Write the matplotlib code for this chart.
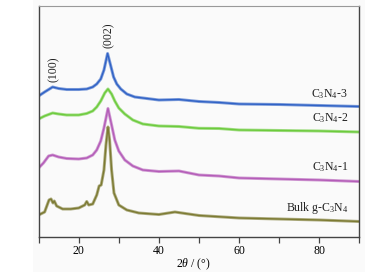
import matplotlib
matplotlib.use("Agg")
import matplotlib.pyplot as plt
from matplotlib.patches import Rectangle

plt.rcParams['font.family'] = ['Liberation Serif', 'DejaVu Serif']
plt.rcParams['mathtext.fontset'] = 'custom'
plt.rcParams['mathtext.rm'] = 'Liberation Serif'
plt.rcParams['mathtext.it'] = 'Liberation Serif:italic'

# ---- data (2theta in degrees, stacked intensity in a.u.) ----
x_c3 = [10, 11.5, 13.5, 15, 17, 20, 22, 23.5, 24.5, 25.5, 26.3, 27.2, 28, 28.7, 29.5, 30.5, 32, 34, 37, 40, 45, 50, 55, 60, 70, 80, 90]
y_c3 = [141, 145, 150, 148.5, 147.5, 147.5, 148, 150, 153, 158, 167, 183.5, 171, 160, 153, 148, 143, 140, 138.5, 137, 137.5, 135.5, 134.5, 133, 132.5, 131.5, 130.5]

x_c2 = [10, 11.5, 13.5, 15, 17, 20, 22, 23.5, 24.5, 25.5, 26.5, 27.3, 28.2, 29, 30, 31.5, 33.5, 36, 40, 45, 50, 55, 60, 70, 80, 90]
y_c2 = [118, 121, 124, 123, 122, 122, 123.5, 126, 130, 136, 144, 148, 143, 136, 129, 123, 117, 113, 111, 110.5, 108.7, 108.5, 107, 106.5, 106, 105]

x_c1 = [10, 11.2, 12.5, 13.5, 15, 17, 20, 22, 23.5, 24.5, 25.5, 26.3, 27.3, 28.2, 29, 30, 31.5, 33.5, 36, 40, 45, 50, 55, 60, 70, 80, 90]
y_c1 = [69, 74, 81, 82, 80, 78.5, 78, 79, 82, 87, 96, 109, 128.5, 112, 97, 86, 77, 71, 67, 65.5, 66, 62, 61, 59, 58, 57, 55.5]

x_bulk = [10, 11.5, 12.6, 13.1, 13.6, 13.9, 14.5, 16, 18, 20, 21.5, 22, 22.5, 23.5, 24.5, 25.1, 25.6, 26.3, 26.8, 27.3, 27.7, 28.2, 28.8, 30, 32, 35, 40, 44, 50, 60, 70, 80, 90]
y_bulk = [22, 25, 37, 38, 34, 36, 31, 28, 28, 29, 32, 35.5, 32, 33, 42, 51, 52, 67, 92, 110, 97, 67, 44, 32, 27, 24, 22.5, 25, 21.5, 19, 18, 17, 15.5]

series = [
    (x_c3, y_c3, '#3062c6'),
    (x_c2, y_c2, '#6ccb3c'),
    (x_c1, y_c1, '#b45cb8'),
    (x_bulk, y_bulk, '#7c7a32'),
]

labels = [r'C$_3$N$_4$-3', r'C$_3$N$_4$-2', r'C$_3$N$_4$-1', r'Bulk g-C$_3$N$_4$']
label_y = [143, 119, 70, 29]
peak_labels = ['(100)', '(002)']
peak_pos = [13.7, 27.4]
peak_y = [168, 202]

xticks_major = [20, 40, 60, 80]
xticks_minor = [10, 30, 50, 70, 90]

W, H = 389, 276
fig = plt.figure(figsize=(W / 100, H / 100), dpi=100)
fig.patches.append(Rectangle((33 / W, 1 - 272 / H), 332 / W, 272 / H,
                             transform=fig.transFigure, facecolor='#fafafa',
                             edgecolor='none', zorder=-10))
left, right, top, bottom = 38.6, 359.4, 6, 237
ax = fig.add_axes([left / W, 1 - bottom / H, (right - left) / W, (bottom - top) / H])
ax.set_facecolor('none')

for xs, ys, c in series:
    ax.plot(xs, ys, color=c, lw=2.2, alpha=0.6, solid_joinstyle='round')
    ax.plot(xs, ys, color=c, lw=1.0)

ax.set_xlim(10, 90)
ax.set_ylim(0, 231)
ax.set_yticks([])
ax.set_xticks(xticks_major)
ax.set_xticks(xticks_minor, minor=True)
ax.tick_params(axis='x', which='both', direction='out', length=4, width=0.9,
               color='#444444', labelsize=8.5, pad=2)
for s in ['left', 'bottom', 'right']:
    ax.spines[s].set_color('#444444')
    ax.spines[s].set_linewidth(1.0)
ax.spines['top'].set_color('#999999')
ax.spines['top'].set_linewidth(0.8)

for lab, yy in zip(labels, label_y):
    ax.text(87.2, yy, lab, ha='right', va='center', fontsize=8.5, color='#222222')
for lab, xx, yy in zip(peak_labels, peak_pos, peak_y):
    ax.text(xx, yy, lab, ha='center', va='center', rotation=90, fontsize=8.5, color='#222222')

ax.set_xlabel(r'2$\it{\theta}$ / (°)', fontsize=8.5)
ax.xaxis.set_label_coords((193 - left) / (right - left), -0.085)

fig.savefig('out.png', dpi=100)
